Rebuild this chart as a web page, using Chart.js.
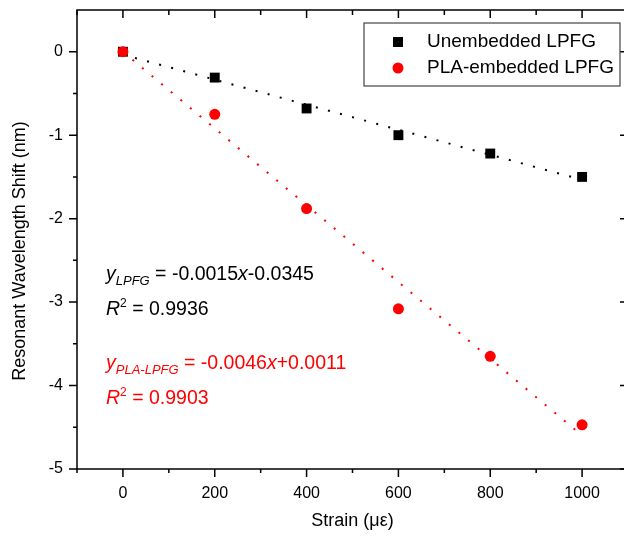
<!DOCTYPE html>
<html>
<head>
<meta charset="utf-8">
<script src="https://cdn.jsdelivr.net/npm/chart.js@4"></script>
<style>
  html, body { margin: 0; padding: 0; background: #fff; overflow: hidden; }
  #wrap { width: 624px; height: 541px; overflow: hidden; }
</style>
</head>
<body>
<div id="wrap"><canvas id="chart" width="640" height="541"></canvas></div>
<script>
// data
const strain = [0, 200, 400, 600, 800, 1000];
const unembedded = [0, -0.31, -0.68, -1.00, -1.22, -1.50];
const plaEmbedded = [0, -0.75, -1.88, -3.08, -3.65, -4.47];
const seriesNames = ["Unembedded LPFG", "PLA-embedded LPFG"];
const seriesColors = ["#000000", "#ff0000"];

// linear fits printed on the figure
const fitSlopes = [-0.0015, -0.0046];
const fitIntercepts = [-0.0345, 0.0011];
const fitRange = [0, 1000];

const xTicks = [0, 200, 400, 600, 800, 1000];
const xMinor = [-100, 100, 300, 500, 700, 900, 1100];
const yTicks = [0, -1, -2, -3, -4, -5];
const yMinor = [-0.5, -1.5, -2.5, -3.5, -4.5];

const FONT = '"Liberation Sans", Arial, sans-serif';

const fitLine = (i) => fitRange.map(x => ({ x: x, y: fitSlopes[i] * x + fitIntercepts[i] }));
const toPoints = (ys) => strain.map((x, i) => ({ x: x, y: ys[i] }));

// box + tick marks (major/minor) on all four sides, plus the y title
const frame = {
  id: 'frame',
  afterDraw(chart) {
    const { ctx, chartArea: a, scales: { x, y } } = chart;
    ctx.save();
    ctx.strokeStyle = '#000';
    ctx.lineWidth = 1.5;
    ctx.strokeRect(a.left, a.top, a.right - a.left, a.bottom - a.top);
    ctx.beginPath();
    xTicks.forEach(v => {
      const px = x.getPixelForValue(v);
      ctx.moveTo(px, a.bottom); ctx.lineTo(px, a.bottom + 8);
      ctx.moveTo(px, a.top); ctx.lineTo(px, a.top + 8);
    });
    xMinor.forEach(v => {
      const px = x.getPixelForValue(v);
      ctx.moveTo(px, a.bottom); ctx.lineTo(px, a.bottom + 4);
      ctx.moveTo(px, a.top); ctx.lineTo(px, a.top + 5);
    });
    yTicks.forEach(v => {
      const py = y.getPixelForValue(v);
      ctx.moveTo(a.left, py); ctx.lineTo(a.left - 8, py);
      ctx.moveTo(a.right, py); ctx.lineTo(a.right - 8, py);
    });
    yMinor.forEach(v => {
      const py = y.getPixelForValue(v);
      ctx.moveTo(a.left, py); ctx.lineTo(a.left - 4, py);
      ctx.moveTo(a.right, py); ctx.lineTo(a.right - 4, py);
    });
    ctx.stroke();

    // y axis title sits a bit below the centre of the axis in the original
    ctx.translate(20, 251);
    ctx.rotate(-Math.PI / 2);
    ctx.font = '18px ' + FONT;
    ctx.fillStyle = '#000';
    ctx.textAlign = 'center';
    ctx.textBaseline = 'middle';
    ctx.fillText('Resonant Wavelength Shift (nm)', 0, 0);
    ctx.restore();
  }
};

// legend box in the upper right
const legendBox = {
  id: 'legendBox',
  afterDraw(chart) {
    const { ctx } = chart;
    ctx.save();
    ctx.strokeStyle = '#444';
    ctx.lineWidth = 1.2;
    ctx.strokeRect(364, 23, 256, 63);
    ctx.font = '19px ' + FONT;
    ctx.textBaseline = 'middle';
    ctx.textAlign = 'left';
    seriesNames.forEach((name, i) => {
      const ds = chart.data.datasets[i];
      const cy = 42 + i * 26;
      ctx.fillStyle = ds.backgroundColor;
      if (ds.pointStyle === 'rect') {
        ctx.fillRect(398 - 5, cy - 5, 10, 10);
      } else {
        ctx.beginPath(); ctx.arc(398, cy, 5.5, 0, Math.PI * 2); ctx.fill();
      }
      ctx.fillStyle = '#000';
      ctx.fillText(name, 427, cy);
    });
    ctx.restore();
  }
};

// rich text pieces: [text, italic, shift(+down / -up), size]
function richText(ctx, x, y, parts, color) {
  ctx.fillStyle = color;
  ctx.textBaseline = 'alphabetic';
  ctx.textAlign = 'left';
  parts.forEach(([t, it, dy, size]) => {
    ctx.font = (it ? 'italic ' : '') + size + 'px ' + FONT;
    ctx.fillText(t, x, y + dy);
    x += ctx.measureText(t).width;
  });
}

const fitText = {
  id: 'fitText',
  afterDraw(chart) {
    const { ctx } = chart;
    ctx.save();
    richText(ctx, 106, 280, [['y', true, 0, 19.5], ['LPFG', true, 5, 13], [' = -0.0015', false, 0, 19.5], ['x', true, 0, 19.5], ['-0.0345', false, 0, 19.5]], '#000');
    richText(ctx, 106, 315, [['R', true, 0, 19.5], ['2', false, -8, 12], [' = 0.9936', false, 0, 19.5]], '#000');
    richText(ctx, 106, 369, [['y', true, 0, 19.5], ['PLA-LPFG', true, 5, 13], [' = -0.0046', false, 0, 19.5], ['x', true, 0, 19.5], ['+0.0011', false, 0, 19.5]], '#ff0000');
    richText(ctx, 106, 404, [['R', true, 0, 19.5], ['2', false, -8, 12], [' = 0.9903', false, 0, 19.5]], '#ff0000');
    ctx.restore();
  }
};

new Chart(document.getElementById('chart'), {
  type: 'scatter',
  data: {
    datasets: [
      {
        label: seriesNames[0],
        data: toPoints(unembedded),
        pointStyle: 'rect',
        pointRadius: 7,
        backgroundColor: seriesColors[0],
        borderColor: seriesColors[0],
        borderWidth: 0,
        order: 1
      },
      {
        label: seriesNames[1],
        data: toPoints(plaEmbedded),
        pointStyle: 'circle',
        pointRadius: 5.5,
        backgroundColor: seriesColors[1],
        borderColor: seriesColors[1],
        borderWidth: 0,
        order: 0
      },
      {
        label: 'fit-0',
        data: fitLine(0),
        showLine: true,
        pointRadius: 0,
        borderColor: seriesColors[0],
        borderWidth: 2,
        borderDash: [2, 10.5],
        order: 2
      },
      {
        label: 'fit-1',
        data: fitLine(1),
        showLine: true,
        pointRadius: 0,
        borderColor: seriesColors[1],
        borderWidth: 2,
        borderDash: [2, 10.5],
        order: 2
      }
    ]
  },
  options: {
    responsive: false,
    animation: false,
    layout: { padding: { top: 10, right: 12, left: 0, bottom: 0 } },
    plugins: { legend: { display: false }, tooltip: { enabled: false } },
    scales: {
      x: {
        type: 'linear',
        min: -100,
        max: 1100,
        afterBuildTicks: s => { s.ticks = xTicks.map(v => ({ value: v })); },
        afterFit: s => { s.height = 72; s.paddingLeft = 0; s.paddingRight = 0; },
        grid: { display: false },
        border: { display: false },
        ticks: { color: '#000', font: { family: FONT, size: 16 }, padding: 7, maxRotation: 0, callback: v => String(v) },
        title: { display: true, text: 'Strain (\u03bc\u03b5)', color: '#000', font: { family: FONT, size: 18 }, padding: { top: 0, bottom: 9 } }
      },
      y: {
        type: 'linear',
        min: -5,
        max: 0.5,
        afterBuildTicks: s => { s.ticks = yTicks.map(v => ({ value: v })); },
        afterFit: s => { s.width = 77; s.paddingTop = 0; s.paddingBottom = 0; },
        grid: { display: false },
        border: { display: false },
        ticks: { color: '#000', font: { family: FONT, size: 16 }, padding: 6, callback: v => String(v) },
        title: { display: false }
      }
    }
  },
  plugins: [frame, legendBox, fitText]
});
</script>
</body>
</html>
